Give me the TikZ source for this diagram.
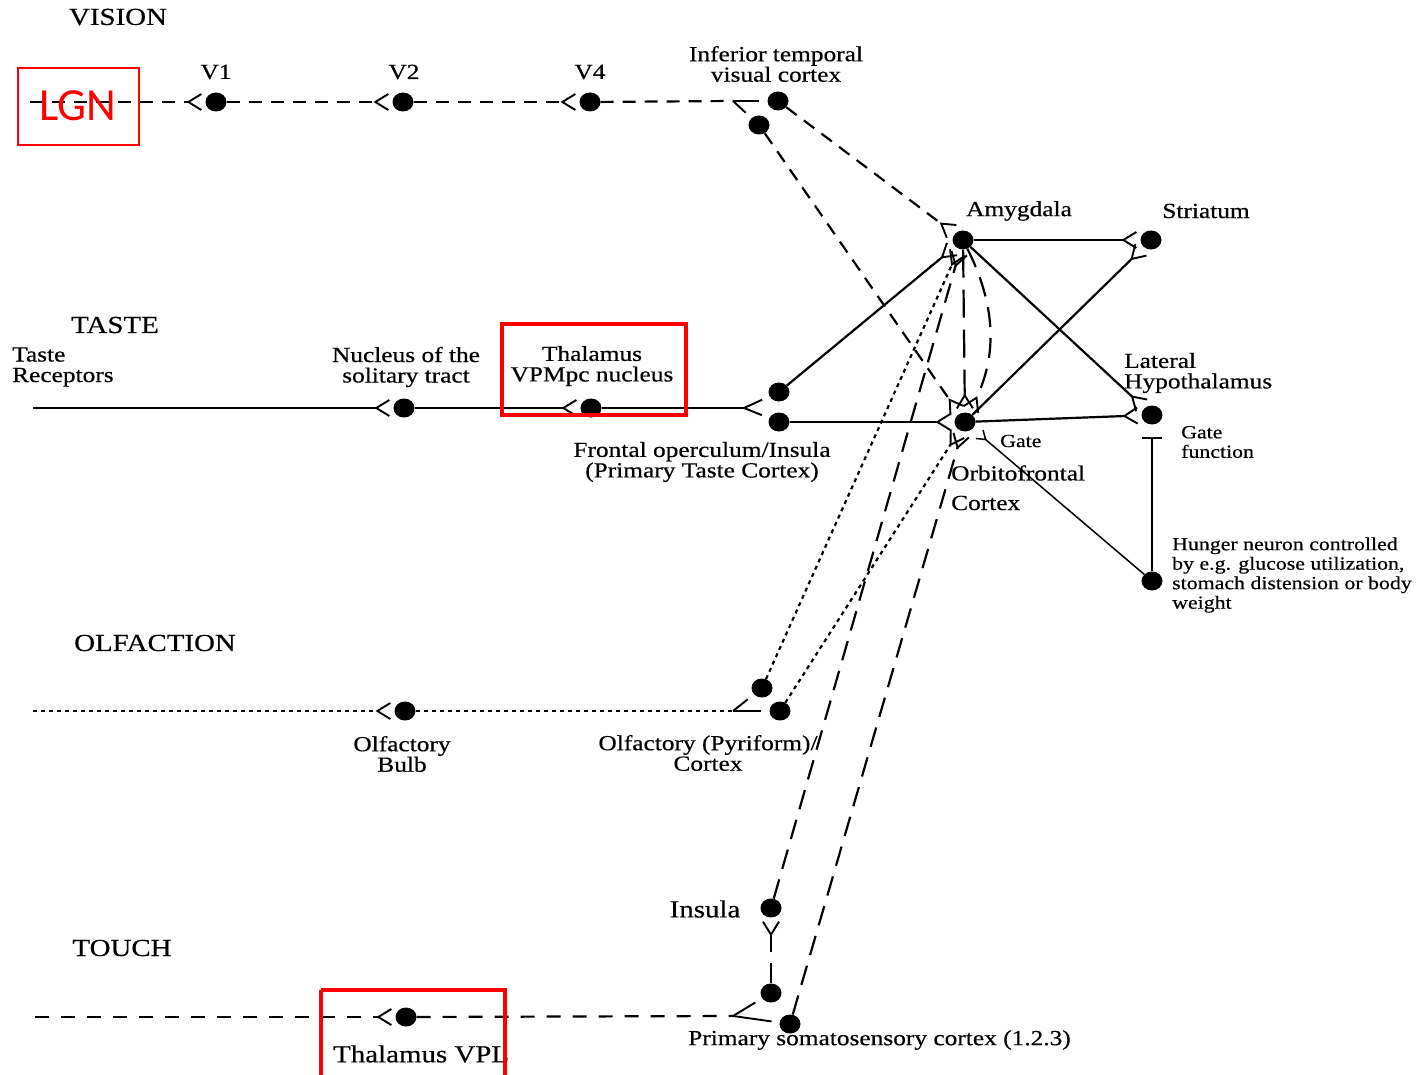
\documentclass[tikz,border=0pt]{standalone}
\usepackage{fontspec}
\setmainfont{Liberation Serif}[FakeStretch=1.18,FakeBold=0.5]
\newfontfamily\calibfont{Carlito}
\usetikzlibrary{arrows.meta,shapes.geometric}

\begin{document}
\begin{tikzpicture}[x=1pt,y=-1pt,
  dot/.style={ellipse,fill=black,minimum width=21pt,minimum height=19pt,inner sep=0pt},
  lab/.style={font=\fontsize{21.5}{20.5}\selectfont,inner sep=0pt,align=center},
  biglab/.style={font=\fontsize{24.5}{25}\selectfont,inner sep=0pt},
  small/.style={font=\fontsize{18.5}{19.5}\selectfont,inner sep=0pt,align=left},
  head/.style={font=\fontsize{24.5}{25}\selectfont,inner sep=0pt},
  wire/.style={line width=2.2pt},
  vdash/.style={wire,dash pattern=on 13pt off 9pt},
  tdash/.style={wire,dash pattern=on 14pt off 12pt},
  ldash/.style={wire,dash pattern=on 20pt off 11pt},
  hdash/.style={wire,dash pattern=on 28pt off 12pt},
  odot/.style={wire,dash pattern=on 4pt off 4pt},
  syn/.style={-{Straight Barb[reversed,length=13pt,width=16pt,line width=1.9pt]},shorten >=3pt},
  arm/.style={line width=1.9pt,shorten >=8pt},
  redbox/.style={draw=red,line width=3.5pt}
]
\useasboundingbox (0,0) rectangle (1426,1075);
\fill[white] (0,0) rectangle (1426,1075);

% ---------- neurons ----------
\node[dot] (V1)   at (216,102) {};
\node[dot] (V2)   at (403,102) {};
\node[dot] (V4)   at (590,102) {};
\node[dot] (IT1)  at (778,101) {};
\node[dot] (IT2)  at (759,125) {};
\node[dot] (NTS)  at (404,408) {};
\node[dot] (VPM)  at (591,408) {};
\node[dot] (FO1)  at (779,392) {};
\node[dot] (FO2)  at (779,422) {};
\node[dot] (AMY)  at (963,240) {};
\node[dot] (STR)  at (1151,240) {};
\node[dot] (OFC)  at (965,422) {};
\node[dot] (LH)   at (1152,415) {};
\node[dot] (HUN)  at (1152,581) {};
\node[dot] (OB)   at (405,711) {};
\node[dot] (PIR1) at (762,688) {};
\node[dot] (PIR2) at (780,711) {};
\node[dot] (INS)  at (771,908) {};
\node[dot] (SS1)  at (771,993) {};
\node[dot] (SS2)  at (790,1024) {};
\node[dot] (VPL)  at (406,1017) {};

% ---------- free ends and branch points ----------
\coordinate (vL) at (30,102);
\coordinate (vF) at (733,101);
\coordinate (tL) at (33,408);
\coordinate (tF) at (744,408);
\coordinate (oL) at (33,711);
\coordinate (oF) at (733,711);
\coordinate (sL) at (35,1017);
\coordinate (sF) at (733,1016);

% ---------- vision pathway ----------
\draw[vdash,syn] (vL) -- (V1);
\draw[vdash,syn] (V1) -- (V2);
\draw[vdash,syn] (V2) -- (V4);
\draw[vdash] (V4) -- (vF);
\draw[arm] (vF) -- (IT1);
\draw[arm] (vF) -- (IT2);
\draw[vdash,syn] (IT1) -- (AMY);
\draw[vdash,syn] (IT2) -- (OFC);

% ---------- taste pathway ----------
\draw[wire,syn] (tL) -- (NTS);
\draw[wire,syn] (NTS) -- (VPM);
\draw[wire] (VPM) -- (tF);
\draw[arm] (tF) -- (FO1);
\draw[arm] (tF) -- (FO2);
\draw[wire,syn] (FO1) -- (AMY);
\draw[wire,syn] (FO2) -- (OFC);

% ---------- amygdala / orbitofrontal outputs ----------
\draw[wire,syn] (AMY) -- (STR);
\draw[wire,syn] (OFC) -- (STR);
\draw[wire,syn] (AMY) -- (LH);
\draw[wire,syn] (OFC) -- (LH);
\draw[hdash,syn] (AMY) -- (OFC);
\draw[ldash,syn] (AMY) to[bend left=26] (OFC);

% ---------- hunger gating ----------
\draw[wire,-{Bar[width=20pt,line width=2.2pt]},shorten >=12pt] (HUN) -- (LH);
\draw[line width=1.5pt,-{Straight Barb[reversed,length=8pt,width=11pt,line width=1.5pt]},shorten >=8pt] (HUN) -- (OFC);

% ---------- olfactory pathway ----------
\draw[odot,syn] (oL) -- (OB);
\draw[odot] (OB) -- (oF);
\draw[arm] (oF) -- (PIR1);
\draw[arm] (oF) -- (PIR2);
\draw[odot,syn] (PIR1) -- (AMY);
\draw[odot,syn] (PIR2) -- (OFC);

% ---------- touch pathway ----------
\draw[tdash,syn] (sL) -- (VPL);
\draw[tdash] (VPL) -- (sF);
\draw[arm] (sF) -- (SS1);
\draw[arm] (sF) -- (SS2);
\draw[ldash,syn] (SS1) -- (INS);
\draw[ldash,syn] (INS) -- (AMY);
\draw[ldash,syn] (SS2) -- (OFC);

% ---------- labels ----------
\node[head] (hV) at (118,17) {VISION};
\node[lab] (lV1) at (216,72) {V1};
\node[lab] (lV2) at (404,72) {V2};
\node[lab] (lV4) at (590,72) {V4};
\node[lab] (lIT) at (776,64) {Inferior temporal\\visual cortex};

\node[head] (hT) at (115,325) {TASTE};
\node[lab,align=left,anchor=west] (lTR) at (12,367) {Taste\\Receptors};
\node[lab] (lNTS) at (406,367) {Nucleus of the\\solitary tract};
\node[lab] (lVPM) at (592,366) {Thalamus\\VPMpc nucleus};
\node[lab] (lFO) at (702,462) {Frontal operculum/Insula\\(Primary Taste Cortex)};

\node[lab] (lAMY) at (1019,211) {Amygdala};
\node[lab] (lSTR) at (1206,211) {Striatum};
\node[lab,align=left,anchor=west] (lLH) at (1124,373) {Lateral\\Hypothalamus};
\node[small,anchor=west] (lGF) at (1181,442) {Gate\\function};
\node[small,anchor=west] (lG) at (1000,441) {Gate};
\node[lab,anchor=west] (lOFC1) at (951,473) {Orbitofrontal};
\node[lab,anchor=west] (lOFC2) at (951,503) {Cortex};
\node[small,anchor=west] (lHUN) at (1172,575) {Hunger neuron controlled\\by e.g. glucose utilization,\\stomach distension or body\\weight};

\node[head] (hO) at (155,643) {OLFACTION};
\node[lab] (lOB) at (402,754) {Olfactory\\Bulb};
\node[lab] (lPIR) at (708,753) {Olfactory (Pyriform)/\\Cortex};

\node[biglab] (lINS) at (705,909) {Insula};
\node[head] (hTo) at (122,948) {TOUCH};
\node[biglab,anchor=west] (lVPL) at (333,1054) {Thalamus VPL};
\node[lab,anchor=west] (lSS) at (688,1040) {Primary somatosensory cortex (1.2.3)};

% ---------- highlight boxes ----------
\draw[draw=red,line width=2pt] (18,68) rectangle (139,145);
\node[text=red,font=\calibfont\fontsize{46}{46}\selectfont,inner sep=0pt] (lLGN) at (78,106) {LGN};
\draw[redbox] (502,324) rectangle (686,415);
\draw[redbox] (321,990) -- (321,1080) (505,1080) -- (505,990) -- (321,990);
\end{tikzpicture}
\end{document}
